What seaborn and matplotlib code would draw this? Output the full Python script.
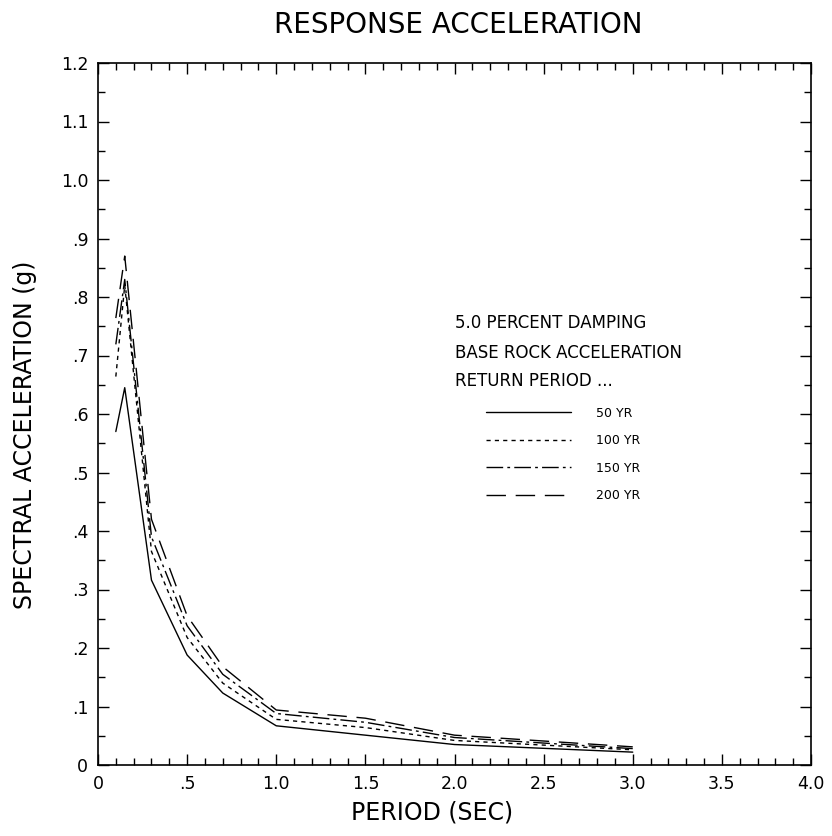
import numpy as np
import pandas as pd
import matplotlib
matplotlib.use('Agg')
import matplotlib.pyplot as plt
from matplotlib.ticker import MultipleLocator, FixedLocator, FixedFormatter
import seaborn as sns

# values
period = [0.1, 0.15, 0.3, 0.5, 0.7, 1.0, 1.5, 2.0, 3.0]
yr50 = [0.570, 0.645, 0.316, 0.188, 0.123, 0.067, 0.051, 0.035, 0.022]
yr100 = [0.664, 0.820, 0.365, 0.218, 0.140, 0.078, 0.064, 0.042, 0.026]
yr150 = [0.719, 0.830, 0.390, 0.238, 0.155, 0.088, 0.073, 0.047, 0.028]
yr200 = [0.764, 0.870, 0.420, 0.255, 0.168, 0.094, 0.080, 0.051, 0.031]
labels = ['50 YR', '100 YR', '150 YR', '200 YR']

xticks = [0, 0.5, 1.0, 1.5, 2.0, 2.5, 3.0, 3.5, 4.0]
xticklabels = ['0', '.5', '1.0', '1.5', '2.0', '2.5', '3.0', '3.5', '4.0']
yticks = [0, 0.1, 0.2, 0.3, 0.4, 0.5, 0.6, 0.7, 0.8, 0.9, 1.0, 1.1, 1.2]
yticklabels = ['0', '.1', '.2', '.3', '.4', '.5', '.6', '.7', '.8', '.9', '1.0', '1.1', '1.2']

df = pd.concat([
    pd.DataFrame({'period': period, 'sa': v, 'rp': lab})
    for v, lab in zip([yr50, yr100, yr150, yr200], labels)
])

sns.set_style('ticks', {'text.color': 'black', 'axes.labelcolor': 'black',
                        'xtick.color': 'black', 'ytick.color': 'black'})
plt.rcParams['font.family'] = ['DejaVu Sans']

fig = plt.figure(figsize=(8.32, 8.36), dpi=100)
ax = fig.add_axes([98 / 832, 1 - 765 / 836, 713 / 832, 702 / 836])

dash_map = {'50 YR': '', '100 YR': (3, 3), '150 YR': (12, 3, 2, 3), '200 YR': (14, 7)}
sns.lineplot(data=df, x='period', y='sa', style='rp', style_order=labels,
             dashes=dash_map, color='black', lw=1.0, legend=False, ax=ax)

ax.set_xlim(0, 4)
ax.set_ylim(0, 1.2)
ax.xaxis.set_major_locator(FixedLocator(xticks))
ax.xaxis.set_major_formatter(FixedFormatter(xticklabels))
ax.xaxis.set_minor_locator(MultipleLocator(0.1))
ax.yaxis.set_major_locator(FixedLocator(yticks))
ax.yaxis.set_major_formatter(FixedFormatter(yticklabels))
ax.yaxis.set_minor_locator(MultipleLocator(0.05))
ax.tick_params(which='both', direction='in', top=True, right=True, width=1.0, colors='black')
ax.tick_params(which='major', length=8, labelsize=12.5, pad=7)
ax.tick_params(which='minor', length=5)
for s in ax.spines.values():
    s.set_linewidth(1.2)
    s.set_color('black')

ax.set_xlabel('PERIOD (SEC)', fontsize=17)
ax.set_ylabel('SPECTRAL ACCELERATION (g)', fontsize=17)
ax.xaxis.set_label_coords(0.468, -0.05)
ax.yaxis.set_label_coords(-0.086, 0.47)

fig.text(458 / 832, 1 - 25 / 836, 'RESPONSE ACCELERATION', fontsize=20,
         ha='center', va='center', color='black')

# legend block
head = ['5.0 PERCENT DAMPING', 'BASE ROCK ACCELERATION', 'RETURN PERIOD ...']
for txt, yy in zip(head, [0.629, 0.587, 0.547]):
    ax.text(0.5007, yy, txt, transform=ax.transAxes, fontsize=12, va='center',
            ha='left', color='black')

handles = ax.get_lines()[:4]
ax.legend(handles, labels, loc='center left', bbox_to_anchor=(0.535, 0.4425),
          frameon=False, fontsize=9, handlelength=6.8, handletextpad=2.0,
          labelspacing=1.15, borderpad=0, labelcolor='black')

fig.savefig('out.png', dpi=100)
